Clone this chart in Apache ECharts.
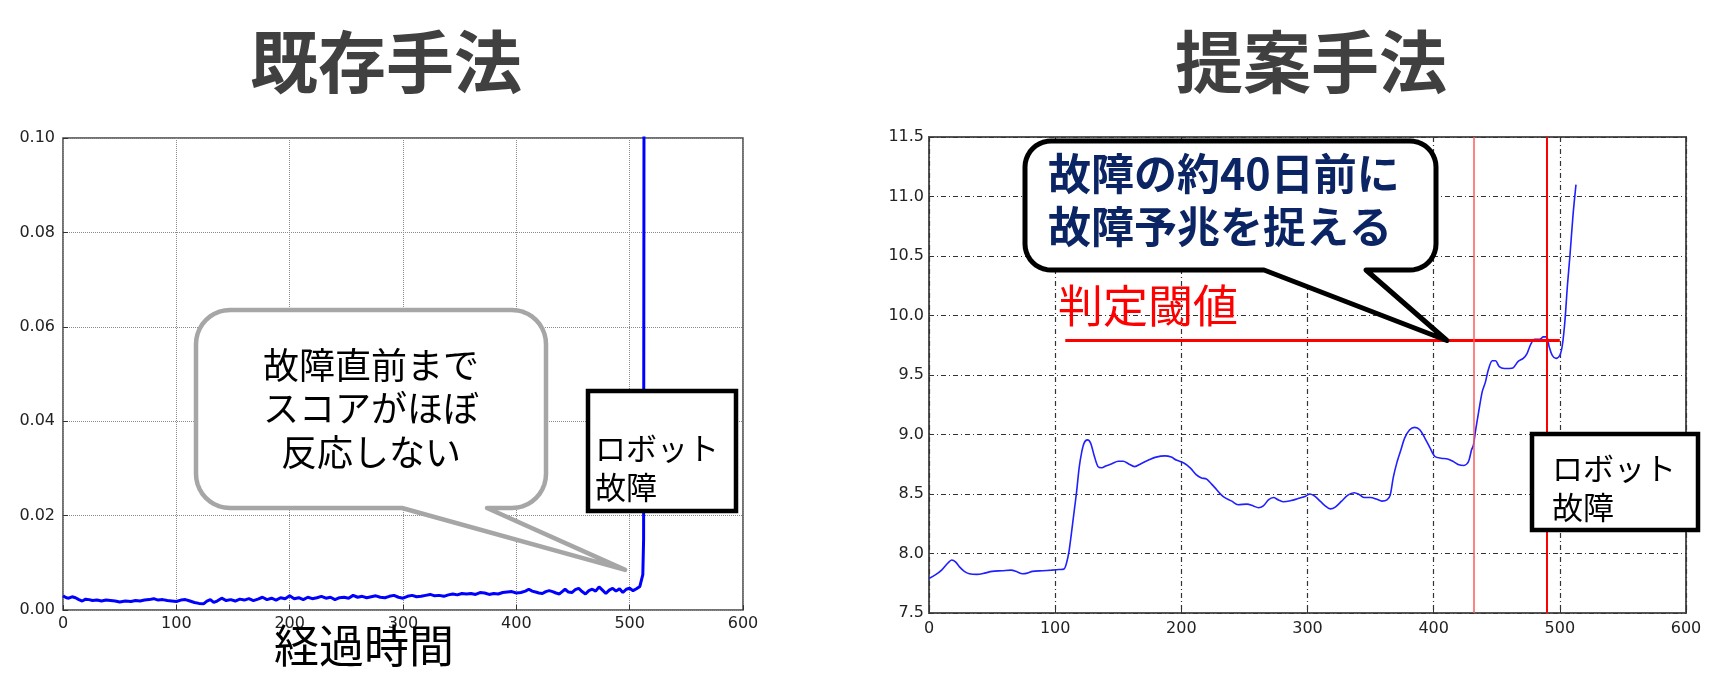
<!DOCTYPE html>
<html><head><meta charset="utf-8">
<script src="https://cdn.jsdelivr.net/npm/echarts@6/dist/echarts.min.js"></script>
<style>html,body{margin:0;padding:0;background:#fff}#c{width:1728px;height:684px}</style>
</head><body><div id="c"></div>
<script>
// ---------- data ----------
const titles = ['既存手法', '提案手法'];
const xAxisTitle = '経過時間';
const leftCallout = ['故障直前まで', 'スコアがほぼ', '反応しない'];
const rightCallout = ['故障の約40日前に', '故障予兆を捉える'];
const robotLabel = ['ロボット', '故障'];
const thresholdLabel = '判定閾値';

// existing method score
const leftX = [0,3,5,8,11,14,17,20,23,26,30,34,38,42,46,50,55,60,64,68,72,76,80,84,88,92,96,100,104,108,112,116,120,124,127,130,133,136,140,144,148,152,156,160,164,168,172,176,180,184,188,192,196,200,204,208,212,216,220,224,228,232,236,240,244,248,252,256,260,264,268,272,276,280,284,288,292,296,300,304,308,312,316,320,324,328,332,336,340,344,348,352,356,360,364,368,372,376,380,384,388,392,396,400,404,408,411,414,417,420,423,426,429,432,435,438,441,443,446,449,452,455,458,461,464,467,470,473,476,479,482,485,488,491,494,497,500,503,506,509,510.5,511.6,512.3,512.7];
const leftY = [0.0030,0.0026,0.0025,0.0028,0.0026,0.0022,0.0019,0.0023,0.0022,0.0020,0.0021,0.0019,0.0021,0.0020,0.0019,0.0017,0.0019,0.0018,0.0020,0.0019,0.0021,0.0022,0.0024,0.0021,0.0022,0.0020,0.0019,0.0018,0.0021,0.0022,0.0019,0.0016,0.0014,0.0013,0.0019,0.0022,0.0016,0.0019,0.0025,0.0020,0.0022,0.0019,0.0023,0.0021,0.0024,0.0020,0.0023,0.0027,0.0022,0.0025,0.0021,0.0026,0.0024,0.0030,0.0024,0.0026,0.0022,0.0027,0.0024,0.0026,0.0029,0.0025,0.0027,0.0022,0.0026,0.0027,0.0025,0.0031,0.0027,0.0029,0.0026,0.0028,0.0030,0.0027,0.0026,0.0029,0.0031,0.0027,0.0025,0.0029,0.0031,0.0028,0.0029,0.0031,0.0033,0.0030,0.0031,0.0029,0.0032,0.0034,0.0032,0.0035,0.0034,0.0035,0.0033,0.0037,0.0036,0.0033,0.0035,0.0034,0.0037,0.0038,0.0039,0.0036,0.0037,0.0040,0.0044,0.0040,0.0038,0.0036,0.0035,0.0039,0.0041,0.0039,0.0036,0.0034,0.0040,0.0044,0.0038,0.0037,0.0043,0.0046,0.0039,0.0034,0.0041,0.0044,0.0040,0.0049,0.0042,0.0035,0.0042,0.0046,0.0040,0.0045,0.0037,0.0044,0.0046,0.0041,0.0045,0.0050,0.0053,0.0075,0.0150,0.1200];

// proposed method score
const rightX = [0,5,10,15,18,21,24,28,32,38,44,50,58,65,70,74,78,82,90,97,103,107,109,111,113,115,117,119,121,123,125.5,128,131,134,137,140,145,150,154,158,163,168,174,180,187,192,196,202,207,212,216,220,226,233,240,245,252,257,261,265,269,273,277,281,287,292,298,302,306,310,314,318,322,327,332,337,341,345,350,355,359,363,365.5,368,371,374,377,381,385,389,393,397,401,406,411,416,420,424,427.5,430,431.5,433,435.5,438.5,441,443.5,446.5,449,452,456,460,463,467,471,474,477,480,484,487,489.5,491.5,494,497,500,502,504,506,508,510.5,512.8];
const rightY = [7.79,7.82,7.86,7.92,7.945,7.93,7.89,7.85,7.83,7.825,7.835,7.85,7.855,7.86,7.845,7.83,7.835,7.85,7.855,7.86,7.865,7.87,7.92,8.02,8.18,8.35,8.52,8.72,8.85,8.93,8.955,8.93,8.82,8.73,8.72,8.735,8.755,8.775,8.775,8.755,8.73,8.755,8.785,8.81,8.82,8.81,8.785,8.76,8.72,8.66,8.635,8.625,8.56,8.48,8.44,8.41,8.415,8.40,8.385,8.40,8.45,8.47,8.45,8.435,8.445,8.46,8.48,8.50,8.48,8.44,8.40,8.375,8.39,8.44,8.49,8.51,8.495,8.47,8.47,8.455,8.44,8.45,8.49,8.64,8.77,8.87,8.97,9.04,9.06,9.04,8.97,8.89,8.815,8.80,8.795,8.77,8.745,8.74,8.77,8.87,8.91,9.02,9.18,9.36,9.44,9.55,9.62,9.62,9.57,9.555,9.555,9.56,9.615,9.64,9.68,9.76,9.80,9.80,9.82,9.82,9.74,9.665,9.64,9.665,9.75,9.95,10.25,10.50,10.85,11.10];

const thresholdValue = 9.79;
const thresholdX = [108, 500];
const redLines = [432, 490];

const xMin = 0, xMax = 600, xStep = 100;
const leftYMin = 0, leftYMax = 0.10, leftYStep = 0.02;
const rightYMin = 7.5, rightYMax = 11.5, rightYStep = 0.5;

// ---------- chart ----------
const chart = echarts.init(document.getElementById('c'), null, {renderer: 'canvas'});
const tickFont = {fontFamily: '"DejaVu Sans", sans-serif', fontSize: 16, color: '#222'};
const CJK = '"Noto Sans CJK JP", sans-serif';

function xAxisCfg(gi, margin, gridStyle) {
  return {
    type: 'value', gridIndex: gi, min: xMin, max: xMax, interval: xStep,
    axisLine: {show: false},
    axisTick: {show: true, inside: true, length: 5, lineStyle: {color: '#333'}},
    axisLabel: Object.assign({margin: margin, showMinLabel: true, showMaxLabel: true}, tickFont),
    splitLine: {show: true, lineStyle: gridStyle}
  };
}

const leftGrid = {type: 'dotted', color: '#8a8a8a', width: 1};
const rightGrid = {type: [5, 3, 1, 3], color: '#333', width: 1.2};

chart.setOption({
  animation: false,
  backgroundColor: '#fff',
  title: [
    {text: titles[0], left: 381, top: 57, textAlign: 'center', textVerticalAlign: 'middle',
     textStyle: {fontFamily: CJK, fontWeight: 'bold', fontSize: 68, color: '#404040'}},
    {text: titles[1], left: 1306, top: 57, textAlign: 'center', textVerticalAlign: 'middle',
     textStyle: {fontFamily: CJK, fontWeight: 'bold', fontSize: 68, color: '#404040'}}
  ],
  grid: [
    {left: 63, top: 138, width: 680, height: 472, show: true, borderColor: '#444', borderWidth: 1.5, backgroundColor: '#fff', containLabel: false},
    {left: 929, top: 137, width: 757, height: 476, show: true, borderColor: '#555', borderWidth: 2, backgroundColor: '#fff', containLabel: false}
  ],
  xAxis: [xAxisCfg(0, 6, leftGrid), xAxisCfg(1, 8, rightGrid)],
  yAxis: [
    {type: 'value', gridIndex: 0, min: leftYMin, max: leftYMax, interval: leftYStep,
     axisLine: {show: false},
     axisTick: {show: true, inside: true, length: 5, lineStyle: {color: '#333'}},
     axisLabel: Object.assign({margin: 8, formatter: v => v.toFixed(2)}, tickFont),
     splitLine: {show: true, lineStyle: leftGrid}},
    {type: 'value', gridIndex: 1, min: rightYMin, max: rightYMax, interval: rightYStep,
     axisLine: {show: false},
     axisTick: {show: true, inside: true, length: 5, lineStyle: {color: '#333'}},
     axisLabel: Object.assign({margin: 5, formatter: v => v.toFixed(1)}, tickFont),
     splitLine: {show: true, lineStyle: rightGrid}}
  ],
  series: [
    {type: 'line', xAxisIndex: 0, yAxisIndex: 0, showSymbol: false, clip: true,
     data: leftX.map((x, i) => [x, leftY[i]]),
     lineStyle: {color: '#0000ff', width: 3}},
    {type: 'line', xAxisIndex: 1, yAxisIndex: 1, showSymbol: false, clip: true, smooth: 0.3,
     data: rightX.map((x, i) => [x, rightY[i]]),
     lineStyle: {color: '#1f1fff', width: 1.6},
     markLine: {silent: true, symbol: 'none', label: {show: false}, animation: false,
       data: [
         {xAxis: redLines[0], lineStyle: {color: '#ff5a5a', width: 1.5, type: 'solid'}},
         {xAxis: redLines[1], lineStyle: {color: '#ff0000', width: 2, type: 'solid'}}
       ]}},
    {type: 'line', xAxisIndex: 1, yAxisIndex: 1, showSymbol: false,
     data: thresholdX.map(x => [x, thresholdValue]),
     lineStyle: {color: '#ff0000', width: 3}, z: 4}
  ]
});

// ---------- annotations ----------
function calloutPoints(x1, y1, x2, y2, r, bl, br, tip) {
  const pts = [];
  const arc = (cx, cy, a0, a1) => {
    for (let i = 0; i <= 10; i++) {
      const a = a0 + (a1 - a0) * i / 10;
      pts.push([cx + r * Math.cos(a), cy + r * Math.sin(a)]);
    }
  };
  arc(x1 + r, y1 + r, Math.PI, 1.5 * Math.PI);
  arc(x2 - r, y1 + r, 1.5 * Math.PI, 2 * Math.PI);
  arc(x2 - r, y2 - r, 0, 0.5 * Math.PI);
  pts.push([br, y2], [tip[0], tip[1]], [bl, y2]);
  arc(x1 + r, y2 - r, 0.5 * Math.PI, Math.PI);
  return pts;
}

const leftTip = chart.convertToPixel({gridIndex: 0}, [496, 0.0085]);
const rightTip = chart.convertToPixel({gridIndex: 1}, [410.5, thresholdValue]);

function txt(text, x, y, size, color, weight, align) {
  return {type: 'text', x: x, y: y, z: 110,
    style: {text: text, fill: color, font: (weight || 'normal') + ' ' + size + 'px ' + CJK,
            align: align || 'left', verticalAlign: 'middle'}};
}

const g = [
  {type: 'polygon', z: 100, shape: {points: calloutPoints(196, 310, 546, 508, 34, 402, 487, leftTip)},
   style: {fill: '#fff', stroke: '#a6a6a6', lineWidth: 4.5, lineJoin: 'round'}},
  txt(leftCallout[0], 371, 365, 36, '#000', 'normal', 'center'),
  txt(leftCallout[1], 371, 408, 36, '#000', 'normal', 'center'),
  txt(leftCallout[2], 371, 452, 36, '#000', 'normal', 'center'),

  {type: 'rect', z: 100, shape: {x: 588, y: 391, width: 148, height: 120},
   style: {fill: '#fff', stroke: '#000', lineWidth: 4.5}},
  txt(robotLabel[0], 595, 448, 31, '#000'),
  txt(robotLabel[1], 595, 487, 31, '#000'),

  {type: 'polygon', z: 100, shape: {points: calloutPoints(1025, 141, 1436, 270, 26, 1264, 1366, rightTip)},
   style: {fill: '#fff', stroke: '#000', lineWidth: 5, lineJoin: 'round'}},
  txt(rightCallout[0], 1048, 174, 43, '#0b2463', 'bold'),
  txt(rightCallout[1], 1048, 227, 43, '#0b2463', 'bold'),

  txt(thresholdLabel, 1058, 306, 45, '#ff0000'),

  {type: 'rect', z: 100, shape: {x: 1532, y: 434, width: 166, height: 96},
   style: {fill: '#fff', stroke: '#000', lineWidth: 4.5}},
  txt(robotLabel[0], 1552, 468, 31, '#000'),
  txt(robotLabel[1], 1552, 507, 31, '#000'),

  txt(xAxisTitle, 364, 646, 45, '#000', 'normal', 'center')
];
chart.setOption({graphic: {elements: g}});
</script>
</body></html>
